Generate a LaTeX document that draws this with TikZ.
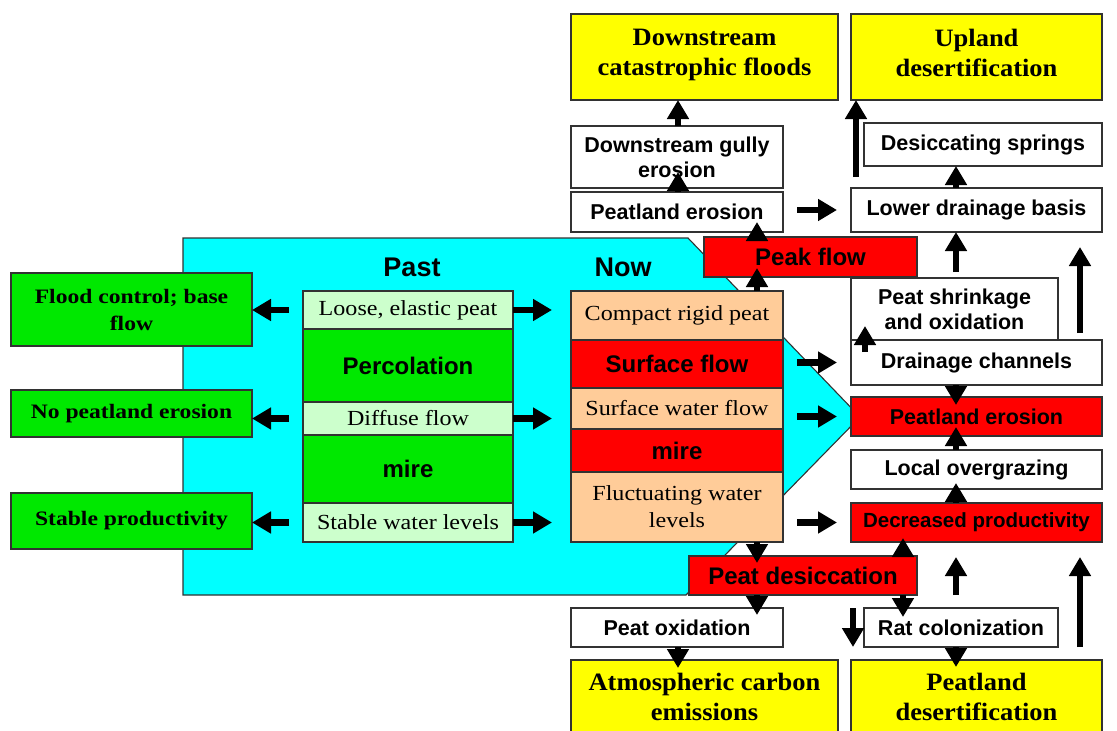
\documentclass[tikz,border=0pt]{standalone}
\usepackage{fontspec}
\setmainfont{Liberation Serif}
\setsansfont{Liberation Sans}
\newfontfamily\serifw[FakeStretch=1.12]{Liberation Serif}
\newfontfamily\serifg[FakeStretch=1.15]{Liberation Serif}
\newfontfamily\serify[FakeStretch=1.06]{Liberation Serif}
\usetikzlibrary{arrows.meta,calc}
\definecolor{cyanbg}{RGB}{0,255,255}
\definecolor{yel}{RGB}{255,255,0}
\definecolor{grn}{RGB}{0,232,0}
\definecolor{lgrn}{RGB}{204,255,204}
\definecolor{peach}{RGB}{255,204,153}
\definecolor{rd}{RGB}{255,0,0}
\definecolor{bdr}{RGB}{50,50,50}
\definecolor{blu}{RGB}{0,0,255}
\tikzset{
  base/.style={draw=bdr, line width=1.1pt, anchor=north west, inner sep=0pt, outer sep=0pt, align=center, text=black},
  ybox/.style={base, fill=yel, font=\serify\bfseries\fontsize{25}{30}\selectfont},
  gbox/.style={base, fill=grn, font=\serifg\bfseries\fontsize{20.5}{27}\selectfont},
  wbox/.style={base, fill=white, font=\sffamily\bfseries\fontsize{21.5}{25}\selectfont},
  rbox/.style={base, fill=rd, font=\sffamily\bfseries\fontsize{21.5}{25}\selectfont},
  rboxb/.style={base, fill=rd, font=\sffamily\bfseries\fontsize{20.5}{24}\selectfont},
  rbig/.style={base, fill=rd, font=\sffamily\bfseries\fontsize{24}{28}\selectfont},
  rbigb/.style={base, fill=rd, font=\sffamily\bfseries\fontsize{24}{28}\selectfont},
  lgbox/.style={base, fill=lgrn, font=\serifw\fontsize{21.5}{27}\selectfont},
  pbox/.style={base, fill=peach, font=\serifw\fontsize{21.5}{27}\selectfont},
  grbox/.style={base, fill=grn, font=\sffamily\bfseries\fontsize{24}{28}\selectfont},
  lbl/.style={font=\sffamily\bfseries\fontsize{27}{32}\selectfont, inner sep=0pt},
  arr/.style={line width=6.8pt, draw=black, -{Triangle[width=21pt,length=19pt]}},
  barr/.style={line width=6.8pt, draw=blu, -{Triangle[width=21pt,length=19pt]}},
}
\begin{document}
\begin{tikzpicture}[x=1pt,y=-1pt]
\useasboundingbox (0,0) rectangle (1117,731);
% background region
\draw[fill=cyanbg, draw=bdr, line width=1.1pt] (183,238) -- (688,238) -- (860,417) -- (686,595) -- (183,595) -- cycle;
\node[lbl] (past) at (412,267) {Past};
\node[lbl] (now) at (623,267) {Now};
% top
\node[ybox, minimum width=267, minimum height=86] (floods) at (571,14) {Downstream\\catastrophic floods\strut};
\node[ybox, minimum width=251, minimum height=86] (upland) at (851,14) {Upland\\desertification\strut};
\node[wbox, minimum width=212, minimum height=62] (gully) at (571,126) {Downstream gully\\erosion};
\node[wbox, minimum width=238, minimum height=43] (springs) at (864,123) {Desiccating springs};
\node[wbox, minimum width=212, minimum height=40] (petop) at (571,192) {Peatland erosion};
\node[wbox, minimum width=251, minimum height=44] (lower) at (851,188) {Lower drainage basis};
\node[rbig, minimum width=213, minimum height=40] (peak) at (704,237) {Peak flow};
% right column
\node[wbox, minimum width=207, minimum height=62] (shrink) at (851,278) {Peat shrinkage\\and oxidation};
\node[wbox, minimum width=251, minimum height=45] (drain) at (851,340) {Drainage channels};
\node[rbox, minimum width=251, minimum height=39] (pe) at (851,397) {Peatland erosion};
\node[wbox, minimum width=251, minimum height=39] (graze) at (851,450) {Local overgrazing};
\node[rboxb, minimum width=251, minimum height=39] (decr) at (851,503) {Decreased productivity};
% bottom
\node[rbig, minimum width=228, minimum height=39] (desic) at (689,556) {Peat desiccation};
\node[wbox, minimum width=212, minimum height=39] (oxid) at (571,608) {Peat oxidation};
\node[wbox, minimum width=194, minimum height=39] (rat) at (864,608) {Rat colonization};
\node[ybox, minimum width=267, minimum height=82] (atm) at (571,660) {Atmospheric carbon\\emissions\strut};
\node[ybox, minimum width=251, minimum height=82] (pdes) at (851,660) {Peatland\\desertification\strut};
% left
\node[gbox, minimum width=241, minimum height=73] (flood) at (11,273) {Flood control; base\\flow};
\node[gbox, minimum width=241, minimum height=47] (nopeat) at (11,390) {No peatland erosion};
\node[gbox, minimum width=241, minimum height=56] (stable) at (11,493) {Stable productivity};
% past column
\node[lgbox, minimum width=210, minimum height=38] (loose) at (303,291) {Loose, elastic peat};
\node[grbox, minimum width=210, minimum height=73] (perc) at (303,329) {Percolation};
\node[lgbox, minimum width=210, minimum height=33] (diffuse) at (303,402) {Diffuse flow};
\node[grbox, minimum width=210, minimum height=68] (mirea) at (303,435) {mire};
\node[lgbox, minimum width=210, minimum height=39] (stablew) at (303,503) {Stable water levels};
% now column
\node[pbox, minimum width=212, minimum height=49] (compact) at (571,291) {Compact rigid peat};
\node[rbigb, minimum width=212, minimum height=48] (surf) at (571,340) {Surface flow};
\node[pbox, minimum width=212, minimum height=41] (sfw) at (571,388) {Surface water flow};
\node[rbigb, minimum width=212, minimum height=43] (mireb) at (571,429) {mire};
\node[pbox, minimum width=212, minimum height=70] (fluct) at (571,472) {Fluctuating water\\levels};
% column coordinates
\coordinate (xa) at (678,0);
\coordinate (xb) at (757,0);
\coordinate (xc) at (856,0);
\coordinate (xcc) at (853,0);
\coordinate (xg) at (865,0);
\coordinate (xd) at (903,0);
\coordinate (xe) at (956,0);
\coordinate (xf) at (1080,0);
% arrows
\draw[arr] (gully.north -| xa) -- (floods.south -| xa);
\draw[arr, shorten >=-16pt] (petop.north -| xa) -- (gully.south -| xa);
\draw[arr, shorten <=14pt, shorten >=14pt] (petop.east |- lower.west) -- (lower.west);
\draw[arr, shorten >=-10pt] (peak.north -| xb) -- (petop.south -| xb);
\draw[arr, shorten >=-9pt] (compact.north -| xb) -- (peak.south -| xb);
\draw[arr] (lower.north -| xe) -- (springs.south -| xe);
\draw[arr, shorten <=11pt] (lower.north -| xc) -- (upland.south -| xc);
\draw[arr, shorten <=6pt] (shrink.north -| xe) -- (lower.south -| xe);
\draw[arr, shorten <=7pt, shorten >=15pt] (drain.north -| xf) -- (lower.south -| xf);
\draw[arr, shorten <=-12pt, shorten >=-14pt] (drain.north -| xg) -- (shrink.south -| xg);
\draw[arr, shorten >=-8pt] (drain.south -| xe) -- (pe.north -| xe);
\draw[arr, shorten >=-9pt] (graze.north -| xe) -- (pe.south -| xe);
\draw[arr, shorten >=-6pt] (decr.north -| xe) -- (graze.south -| xe);
\draw[barr, shorten >=19pt] ([xshift=17pt]drain.east) -- (drain.east);
\draw[barr, shorten >=19pt] ([xshift=17pt]graze.east) -- (graze.east);
\draw[arr, shorten <=14pt, shorten >=14pt] (surf.east |- drain.west) -- (drain.west);
\draw[arr, shorten <=14pt, shorten >=14pt] (sfw.east |- pe.west) -- (pe.west);
\draw[arr, shorten <=14pt, shorten >=14pt] (fluct.east |- decr.west) -- (decr.west);
\draw[arr, shorten >=19pt] (loose.east) -- (loose.east -| compact.west);
\draw[arr, shorten >=19pt] (diffuse.east) -- (diffuse.east -| sfw.west);
\draw[arr, shorten >=19pt] (stablew.east) -- (stablew.east -| fluct.west);
\draw[arr, shorten <=14pt] (loose.west) -- (loose.west -| flood.east);
\draw[arr, shorten <=14pt] (diffuse.west) -- (diffuse.west -| nopeat.east);
\draw[arr, shorten <=14pt] (stablew.west) -- (stablew.west -| stable.east);
\draw[arr, shorten >=-7pt] (fluct.south -| xb) -- (desic.north -| xb);
\draw[arr, shorten >=-7pt] (desic.south -| xb) -- (oxid.north -| xb);
\draw[arr, shorten >=-8pt] (oxid.south -| xa) -- (atm.north -| xa);
\draw[arr, shorten >=-4pt] (desic.north -| xd) -- (decr.south -| xd);
\draw[arr, shorten >=-9pt] (desic.south -| xd) -- (rat.north -| xd);
\draw[arr] (rat.north -| xcc) -- (rat.south -| xcc);
\draw[arr, shorten <=13pt, shorten >=15pt] (rat.north -| xe) -- (decr.south -| xe);
\draw[arr, shorten >=15pt] (rat.south -| xf) -- (decr.south -| xf);
\draw[arr, shorten >=-7pt] (rat.south -| xe) -- (pdes.north -| xe);
\end{tikzpicture}
\end{document}
